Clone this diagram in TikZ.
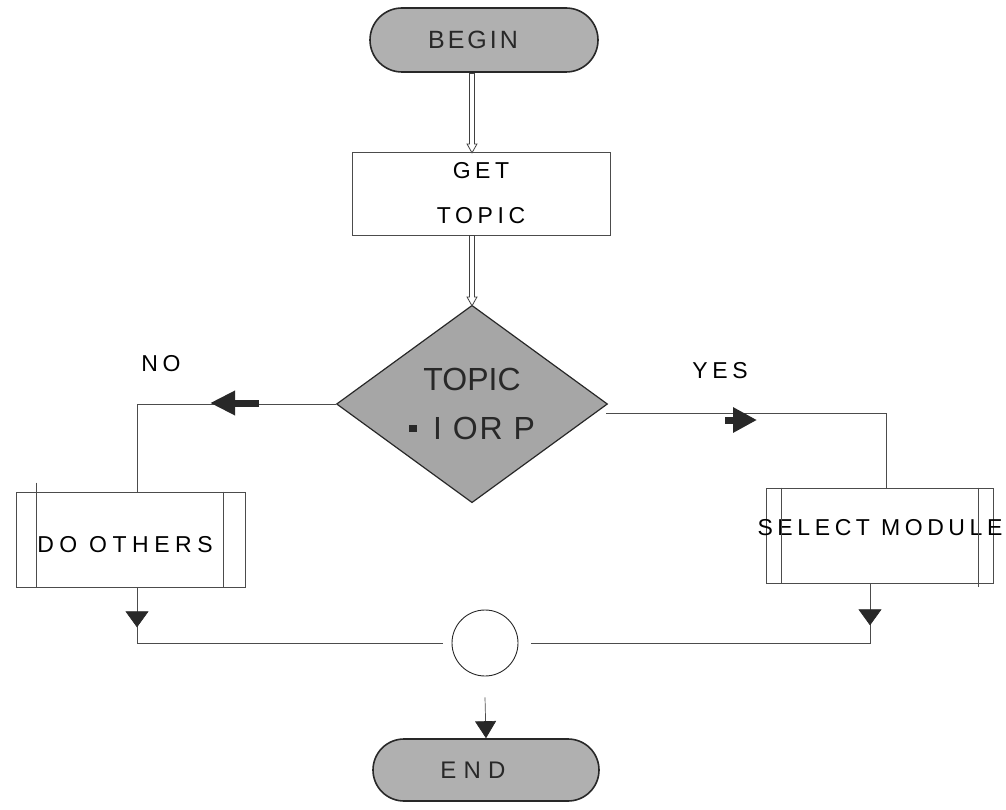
\documentclass[tikz,border=0pt]{standalone}
\usepackage{fontspec}
\setmainfont{Liberation Sans}
\newfontfamily\labb[LetterSpace=12]{Liberation Sans}
\newfontfamily\lab[LetterSpace=20]{Liberation Sans}
\newfontfamily\labo[LetterSpace=24]{Liberation Sans}
\newfontfamily\labw[LetterSpace=30]{Liberation Sans}
\newfontfamily\labd[LetterSpace=6]{Liberation Sans}
\usetikzlibrary{shapes.misc,shapes.geometric,arrows.meta,decorations.markings,calc}
\definecolor{termgray}{RGB}{176,176,176}
\definecolor{diagray}{RGB}{166,166,166}
\definecolor{ink}{RGB}{40,40,40}
\begin{document}
\begin{tikzpicture}[x=1pt,y=-1pt,
  term/.style={rounded rectangle, draw=ink, line width=1.6pt, fill=termgray, inner sep=0pt, text=ink},
  proc/.style={rectangle, draw=black!70, line width=0.7pt, inner sep=0pt},
  dec/.style={diamond, draw=ink, line width=1.2pt, fill=diagray, inner sep=0pt, text=ink, align=center},
  conn/.style={draw=black!70, line width=0.7pt},
  solidtip/.style={-{Triangle[length=17pt,width=21pt,fill=ink,color=ink]}},
  hollowout/.style={draw=black!75, line width=6pt, -{Triangle[open,length=10pt,width=11pt,line width=0.8pt,fill=white]}},
  hollowin/.style={draw=white, line width=4.4pt, shorten >=9pt, shorten <=0.9pt},
  fatl/.style={draw=ink, line width=7pt, -{Triangle[length=25pt,width=23pt]}},
  fatr/.style={draw=ink, line width=7pt, -{Triangle[length=24pt,width=24pt]}},
  midtip/.style={postaction={decorate}, decoration={markings, mark=at position #1 with {\arrow[ink]{Triangle[length=16pt,width=23pt]}}}},
  txt/.style={font=\lab\fontsize{23}{28}\selectfont, inner sep=0pt}
]
\useasboundingbox (0,0) rectangle (1006,810);

% nodes
\node[term, minimum width=228pt, minimum height=64pt, font=\labb\fontsize{25}{30}\selectfont] (begin) at (484,40) {\hspace*{-22pt}BEGIN};
\node[proc, minimum width=258pt, minimum height=83pt, align=center, font=\lab\fontsize{23}{45}\selectfont] (get) at (481,193.5) {GET\\TOPIC};
\node[dec, minimum width=271pt, minimum height=190pt, font=\fontsize{32}{49}\selectfont] (d) at (472,404) {TOPIC\\{\labd\raisebox{8pt}{\rule{8pt}{7pt}}\hspace{16pt}I OR P}};
\node[proc, minimum width=229pt, minimum height=95pt] (dob) at (130.5,539.5) {};
\node[font=\labo\fontsize{23}{28}\selectfont, inner sep=0pt] at (125,545) {DO OTHERS};
\node[proc, minimum width=227pt, minimum height=95pt] (sm) at (879.5,535.5) {};
\node[font=\lab\fontsize{23}{28}\selectfont, inner sep=0pt] at (880,528) {SELECT MODULE};
\node[circle, draw=ink, line width=0.9pt, minimum size=66pt, inner sep=0pt] (c) at (485,643) {};
\node[term, minimum width=226pt, minimum height=62pt, font=\labw\fontsize{24}{30}\selectfont] (end) at (486,770) {\hspace*{-26pt}END};

\node[txt] (no) at (161,364) {NO};
\node[txt] (yes) at (720,371) {YES};

% inner side lines of process boxes
\draw[conn] ($(dob.north west)+(21,-9)$) -- ($(dob.south west)+(21,0)$);
\draw[conn] ($(dob.north east)+(-22,0)$) -- ($(dob.south east)+(-22,0)$);
\draw[conn] ($(sm.north west)+(16,0)$) -- ($(sm.south west)+(16,0)$);
\draw[conn] ($(sm.north east)+(-15,0)$) -- ($(sm.south east)+(-15,4)$);

% helper coordinates
\coordinate (ax) at (472,0);
\coordinate (lx) at (137,0);
\coordinate (rx) at (886,0);
\coordinate (rdx) at (870,0);

% connectors
\draw[hollowout] (begin.south -| ax) -- ($(get.north -| ax)+(0,2)$);
\draw[hollowin]  (begin.south -| ax) -- ($(get.north -| ax)+(0,2)$);
\draw[hollowout] (get.south -| d.north) -- ($(d.north)+(0,2)$);
\draw[hollowin]  (get.south -| d.north) -- ($(d.north)+(0,2)$);
\draw[conn] (d.west) -| (lx |- dob.north);
\draw[conn] ($(d.east)+(-2,9)$) -| (rx |- sm.north);
\draw[conn, midtip=40pt] (lx |- dob.south) -- (lx |- c.center) -- ($(c.west)+(-9,0)$);
\draw[conn, midtip=42pt] (rdx |- sm.south) -- (rdx |- c.center) -- ($(c.east)+(13,0)$);
\draw[conn, solidtip] ($(c.south)+(0,21)$) -- (end.north);

% direction markers on the branches
\draw[fatl] (259,403) -- (210,403);
\draw[fatr] (725,420) -- (757,420);
\end{tikzpicture}
\end{document}
